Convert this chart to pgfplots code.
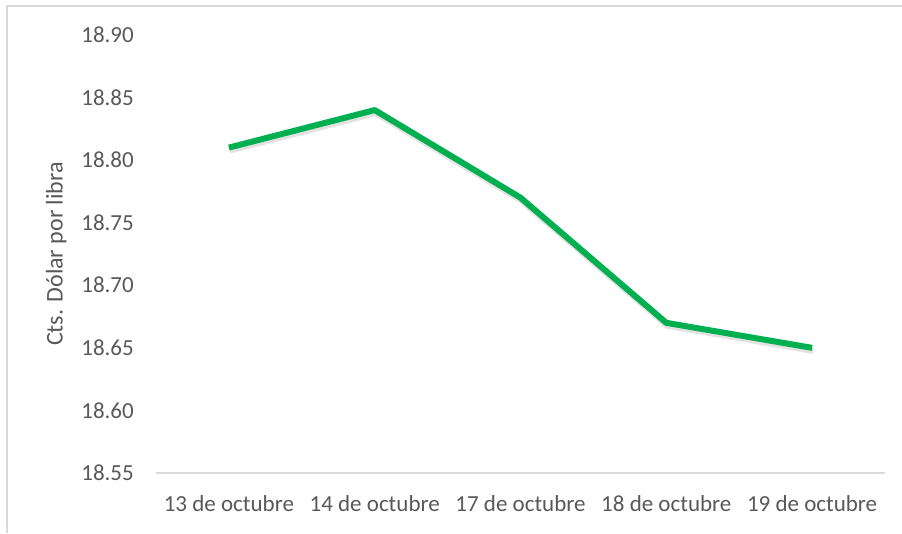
\documentclass[border=0pt]{standalone}
\usepackage{pgfplots}
\pgfplotsset{compat=1.18}
\usepackage{fontspec}
\setmainfont{Carlito}
\definecolor{txt}{HTML}{595959}
\definecolor{axl}{HTML}{D9D9D9}
\definecolor{grn}{HTML}{00B050}
\begin{document}
\begin{tikzpicture}[x=1pt,y=1pt]
\useasboundingbox (0,0) rectangle (902,533);
\fill[white] (0,0) rectangle (902,533);
\draw[axl, line width=1.5pt] (7,0) -- (7,527) -- (902,527);
\begin{axis}[
  at={(156pt,60pt)}, anchor=south west,
  scale only axis, width=729pt, height=438pt,
  xmin=-0.5, xmax=4.5, ymin=18.55, ymax=18.90,
  xtick={0,1,2,3,4},
  xticklabels={13 de octubre,14 de octubre,17 de octubre,18 de octubre,19 de octubre},
  ytick={18.55,18.60,18.65,18.70,18.75,18.80,18.85,18.90},
  yticklabel style={/pgf/number format/fixed, /pgf/number format/fixed zerofill, /pgf/number format/precision=2, anchor=base east, inner sep=0pt, xshift=-22pt, yshift=-7.7pt},
  xticklabel style={anchor=base, inner sep=0pt, yshift=-38.5pt},
  /pgf/number format/assume math mode=true,
  ticklabel style={font=\fontsize{23}{27}\selectfont, text=txt},
  major tick length=0pt,
  tick style={draw=none},
  axis x line*=bottom, axis y line*=left,
  x axis line style={draw=axl, line width=1.5pt, -},
  y axis line style={draw=none},
  ylabel={Cts. Dólar por libra},
  ylabel style={at={(axis description cs:-0.137,0.5)}, anchor=center, rotate=0, font=\fontsize{24}{28}\selectfont, text=txt},
  clip=false,
]
\addplot[black!45, opacity=0.25, line width=6pt, line join=round, yshift=-3pt, xshift=1pt] coordinates {(0,18.81) (1,18.84) (2,18.77) (3,18.67) (4,18.65)};
\addplot[grn, line width=6pt, line join=round] coordinates {(0,18.81) (1,18.84) (2,18.77) (3,18.67) (4,18.65)};
\end{axis}
\end{tikzpicture}
\end{document}
